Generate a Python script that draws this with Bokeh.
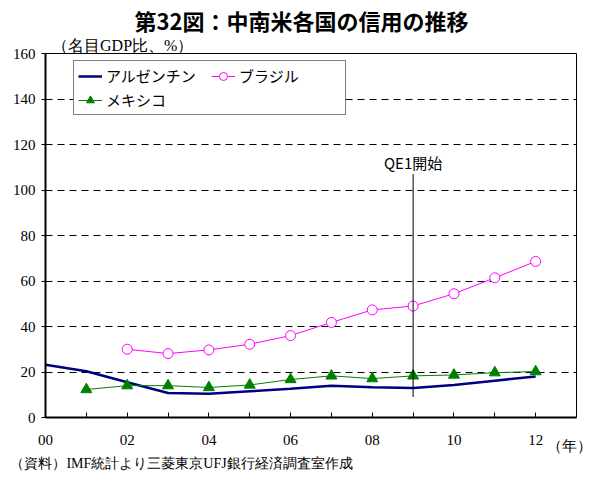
from bokeh.plotting import figure
from bokeh.models import Range1d, FixedTicker, Label, Legend, LegendItem, LinearAxis
from bokeh.embed import file_html
from bokeh.resources import INLINE

years = list(range(0, 13))  # 2000..2012
argentina = [23.2, 20.3, 15.5, 10.8, 10.4, 11.5, 12.6, 14.0, 13.3, 13.0, 14.3, 16.2, 18.0]
brazil_years = list(range(2, 13))
brazil = [30.0, 28.1, 29.7, 32.2, 36.0, 41.8, 47.3, 49.0, 54.4, 61.4, 68.6]
mexico_years = list(range(1, 13))
mexico = [12.3, 14.0, 14.0, 13.2, 14.3, 16.7, 18.3, 17.1, 18.3, 18.7, 19.7, 20.2]
x_tick_labels = {i: ("%02d" % i if i % 2 == 0 else "") for i in years}
y_ticks = [0, 20, 40, 60, 80, 100, 120, 140, 160]
qe1_year = 9
qe1_span = [9, 107]

title_text = "第32図：中南米各国の信用の推移"
unit_text = "（名目GDP比、%）"
year_text = "（年）"
source_text = "（資料）IMF統計より三菱東京UFJ銀行経済調査室作成"

SERIF = "Liberation Serif"
SANS = "Noto Sans CJK JP"

p = figure(width=596, height=481, output_backend="svg", toolbar_location=None,
           x_range=Range1d(0, 13), y_range=Range1d(0, 160),
           min_border_left=45, min_border_right=20, min_border_top=52, min_border_bottom=64)
p.background_fill_color = "white"
p.border_fill_color = "white"
p.outline_line_color = "black"
p.outline_line_width = 1

# axes
p.xaxis.ticker = FixedTicker(ticks=years)
p.xaxis.major_label_overrides = x_tick_labels
p.xaxis.major_tick_in = 5
p.xaxis.major_tick_out = 0
p.xaxis.minor_tick_line_color = None
p.xaxis.axis_line_width = 2
p.xaxis.axis_line_color = "black"
p.xaxis.major_tick_line_color = "black"
p.xaxis.major_label_standoff = 17
p.xaxis.major_label_text_font = SERIF
p.xaxis.major_label_text_font_size = "15px"
p.xaxis.major_label_text_color = "black"

p.yaxis.ticker = FixedTicker(ticks=y_ticks)
p.yaxis.major_tick_in = 0
p.yaxis.major_tick_out = 4
p.yaxis.minor_tick_line_color = None
p.yaxis.axis_line_width = 2
p.yaxis.axis_line_color = "black"
p.yaxis.major_tick_line_color = "black"
p.yaxis.major_label_standoff = 6
p.yaxis.major_label_text_font = SERIF
p.yaxis.major_label_text_font_size = "15px"
p.yaxis.major_label_text_color = "black"

p.xgrid.grid_line_color = None
p.ygrid.ticker = FixedTicker(ticks=[20, 40, 60, 80, 100, 120, 140])
p.ygrid.grid_line_color = "black"
p.ygrid.grid_line_dash = "7 5"
p.ygrid.grid_line_width = 1


def text_axis(pos, text, font, size, standoff, style="normal"):
    ax = LinearAxis(ticker=FixedTicker(ticks=[pos]), major_label_overrides={pos: text})
    ax.axis_line_color = None
    ax.major_tick_line_color = None
    ax.minor_tick_line_color = None
    ax.major_tick_in = 0
    ax.major_tick_out = 0
    ax.major_label_standoff = standoff
    ax.major_label_text_font = font
    ax.major_label_text_font_size = size
    ax.major_label_text_font_style = style
    ax.major_label_text_color = "black"
    return ax


# titles above (first added is nearest the frame)
p.add_layout(text_axis(1.89, unit_text, SERIF, "16px", 0), "above")
p.add_layout(text_axis(6.27, title_text, SANS, "22px", -2, "bold"), "above")
# texts below
p.add_layout(text_axis(12.83, year_text, SERIF, "15px", -10), "below")
p.add_layout(text_axis(3.33, source_text, SERIF, "14px", -1), "below")

# series
r_arg = p.line(years, argentina, line_color="#000080", line_width=2.5)
r_bra_l = p.line(brazil_years, brazil, line_color="#FF00FF", line_width=1)
r_bra_m = p.scatter(brazil_years, brazil, marker="circle", size=10, line_color="#FF00FF",
                    fill_color="white", line_width=1)
r_mex_l = p.line(mexico_years, mexico, line_color="#008000", line_width=1)
r_mex_m = p.scatter(mexico_years, mexico, marker="triangle", size=11, line_color="#008000",
                    fill_color="#008000")

# QE1 line
p.segment(x0=[qe1_year], y0=[qe1_span[0]], x1=[qe1_year], y1=[qe1_span[1]],
          line_color="black", line_width=1)
p.add_layout(Label(x=qe1_year, y=112, text="QE1開始", text_font=SANS,
                   text_font_size="15px", text_align="center", text_baseline="middle",
                   text_color="black"))

legend = Legend(items=[
    LegendItem(label="アルゼンチン", renderers=[r_arg]),
    LegendItem(label="ブラジル", renderers=[r_bra_l, r_bra_m]),
    LegendItem(label="メキシコ", renderers=[r_mex_l, r_mex_m]),
], location=(28, 302), orientation="horizontal", ncols=2)
legend.label_text_font = SANS
legend.label_text_font_size = "15px"
legend.label_text_color = "black"
legend.glyph_width = 24
legend.glyph_height = 20
legend.label_height = 20
legend.label_width = 102
legend.label_standoff = 4
legend.spacing = 3
legend.padding = 4
legend.margin = 0
legend.border_line_color = "black"
legend.border_line_width = 1
legend.background_fill_alpha = 1
p.add_layout(legend)

open("out.html", "w").write(file_html(p, INLINE))
